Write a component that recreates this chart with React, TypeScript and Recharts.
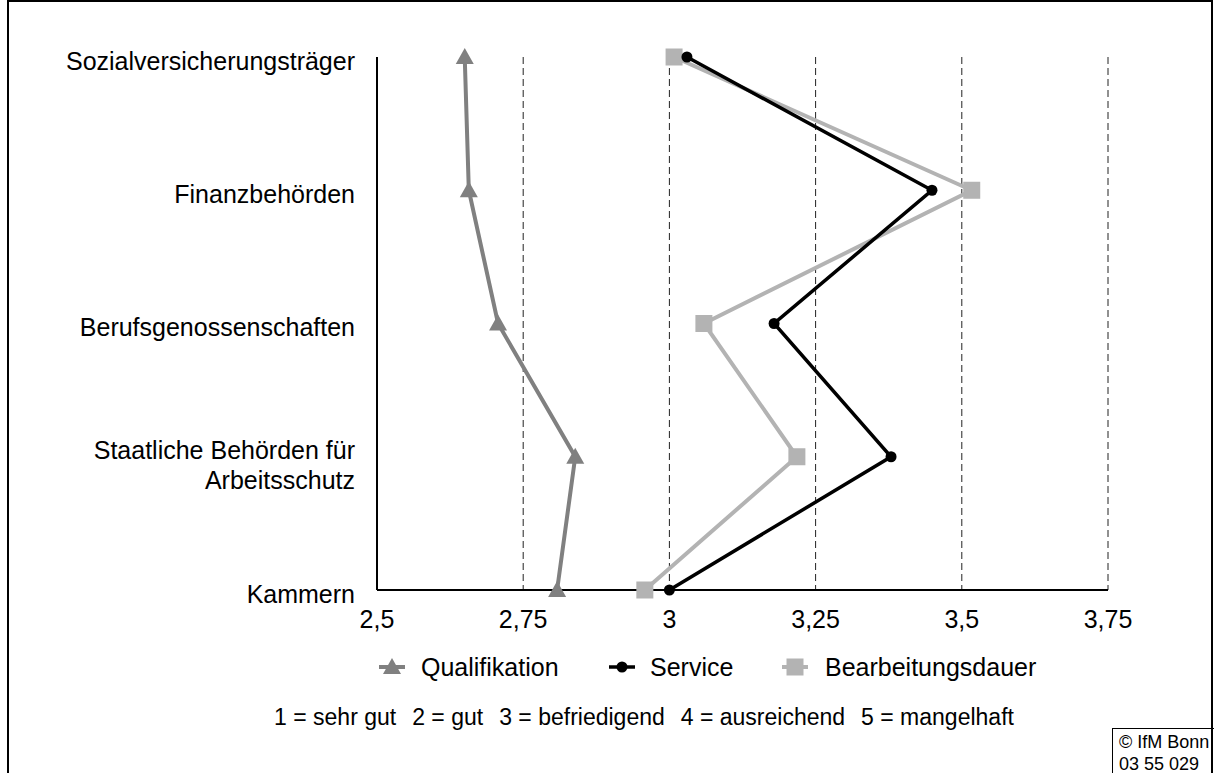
import React from "react";
import { LineChart, Line, XAxis, YAxis, CartesianGrid } from "recharts";

// categories, top to bottom
const categories = [
  "Sozialversicherungsträger",
  "Finanzbehörden",
  "Berufsgenossenschaften",
  "Staatliche Behörden für\nArbeitsschutz",
  "Kammern",
];

// mean grades (1 = sehr gut ... 5 = mangelhaft)
const qualifikation = [2.65, 2.657, 2.707, 2.839, 2.808];
const service = [3.03, 3.449, 3.179, 3.379, 3.0];
const bearbeitungsdauer = [3.008, 3.517, 3.059, 3.218, 2.958];

const xTicks = [2.5, 2.75, 3, 3.25, 3.5, 3.75];

const gradeNotes = [
  "1 = sehr gut",
  "2 = gut",
  "3 = befriedigend",
  "4 = ausreichend",
  "5 = mangelhaft",
];

const FONT = '"Liberation Sans", Arial, sans-serif';

const data = categories.map((name, i) => ({
  name,
  qualifikation: qualifikation[i],
  service: service[i],
  bearbeitungsdauer: bearbeitungsdauer[i],
}));

const Triangle = ({ cx, cy, fill }: any) => (
  <polygon points={`${cx},${cy - 9} ${cx - 9},${cy + 7} ${cx + 9},${cy + 7}`} fill={fill} />
);
const Circle = ({ cx, cy, fill }: any) => <circle cx={cx} cy={cy} r={5.5} fill={fill} />;
const Square = ({ cx, cy, fill }: any) => (
  <rect x={cx - 8.5} y={cy - 8.5} width={17} height={17} fill={fill} />
);

const series = [
  { key: "qualifikation", label: "Qualifikation", color: "#808080", width: 4, Marker: Triangle },
  { key: "service", label: "Service", color: "#000000", width: 3.5, Marker: Circle },
  { key: "bearbeitungsdauer", label: "Bearbeitungsdauer", color: "#b3b3b3", width: 4, Marker: Square },
];

const CategoryTick = ({ x, y, payload }: any) => {
  const lines = String(payload.value).split("\n");
  const start = 4 - ((lines.length - 1) * 30) / 2 + (lines.length > 1 ? 4 : 0);
  return (
    <text x={x} y={y} textAnchor="end" fontSize={25} fontFamily={FONT} fill="#000">
      {lines.map((l, i) => (
        <tspan key={i} x={x} y={y + start + i * 30} dy="0.35em">
          {l}
        </tspan>
      ))}
    </text>
  );
};

const ValueTick = ({ x, y, payload }: any) => (
  <text x={x} y={y + 29} dy="0.35em" textAnchor="middle" fontSize={25} fontFamily={FONT} fill="#000">
    {String(payload.value).replace(".", ",")}
  </text>
);

const legendPos = [
  { icon: 392, text: 421 },
  { icon: 622, text: 650 },
  { icon: 795, text: 825 },
];

export default function App() {
  return (
    <div style={{ position: "absolute", left: 0, top: 0, width: 1214, height: 773, overflow: "hidden", background: "#fff", fontFamily: FONT }}>
      <div style={{ position: "absolute", left: 7, top: 0, width: 1206, height: 800, border: "2px solid #000", boxSizing: "border-box" }} />

      <LineChart
        width={1214}
        height={773}
        layout="vertical"
        data={data}
        margin={{ top: 57, right: 106, bottom: 143, left: 0 }}
        style={{ position: "absolute", left: 0, top: 0 }}
      >
        <CartesianGrid horizontal={false} stroke="#222" strokeDasharray="7 4" />
        <XAxis
          type="number"
          domain={[2.5, 3.75]}
          ticks={xTicks}
          height={40}
          axisLine={{ stroke: "#000", strokeWidth: 2 }}
          tickLine={false}
          tickSize={0}
          tickMargin={0}
          tick={<ValueTick />}
          interval={0}
        />
        <YAxis
          type="category"
          dataKey="name"
          scale="point"
          width={377}
          axisLine={{ stroke: "#000", strokeWidth: 2 }}
          tickLine={false}
          tickSize={0}
          tickMargin={22}
          tick={<CategoryTick />}
          interval={0}
        />
        {[series[0], series[2], series[1]].map((s) => (
          <Line
            key={s.key}
            dataKey={s.key}
            stroke={s.color}
            strokeWidth={s.width}
            isAnimationActive={false}
            dot={(p: any) => <s.Marker key={`${s.key}-${p.index}`} cx={p.cx} cy={p.cy} fill={s.color} />}
            activeDot={false}
          />
        ))}
      </LineChart>

      {series.map((s, i) => (
        <React.Fragment key={s.key}>
          <svg style={{ position: "absolute", left: legendPos[i].icon - 14, top: 655 }} width={28} height={24}>
            <line x1={1} x2={27} y1={12} y2={12} stroke={s.color} strokeWidth={s.width} />
            <s.Marker cx={14} cy={12} fill={s.color} />
          </svg>
          <div style={{ position: "absolute", left: legendPos[i].text, top: 652, fontSize: 25, lineHeight: "30px", color: "#000", whiteSpace: "nowrap" }}>
            {s.label}
          </div>
        </React.Fragment>
      ))}

      <div style={{ position: "absolute", left: 0, width: 1288, top: 703, textAlign: "center", fontSize: 23, lineHeight: "28px", whiteSpace: "nowrap" }}>
        {gradeNotes.map((n, i) => (
          <span key={i} style={{ marginLeft: i ? 16 : 0 }}>{n}</span>
        ))}
      </div>

      <div style={{ position: "absolute", left: 1112, top: 728, width: 110, height: 60, border: "1.5px solid #000", boxSizing: "border-box", fontSize: 18, lineHeight: "22px", padding: "2px 0 0 6px", whiteSpace: "nowrap" }}>
        © IfM Bonn
        <br />
        03 55 029
      </div>
    </div>
  );
}
